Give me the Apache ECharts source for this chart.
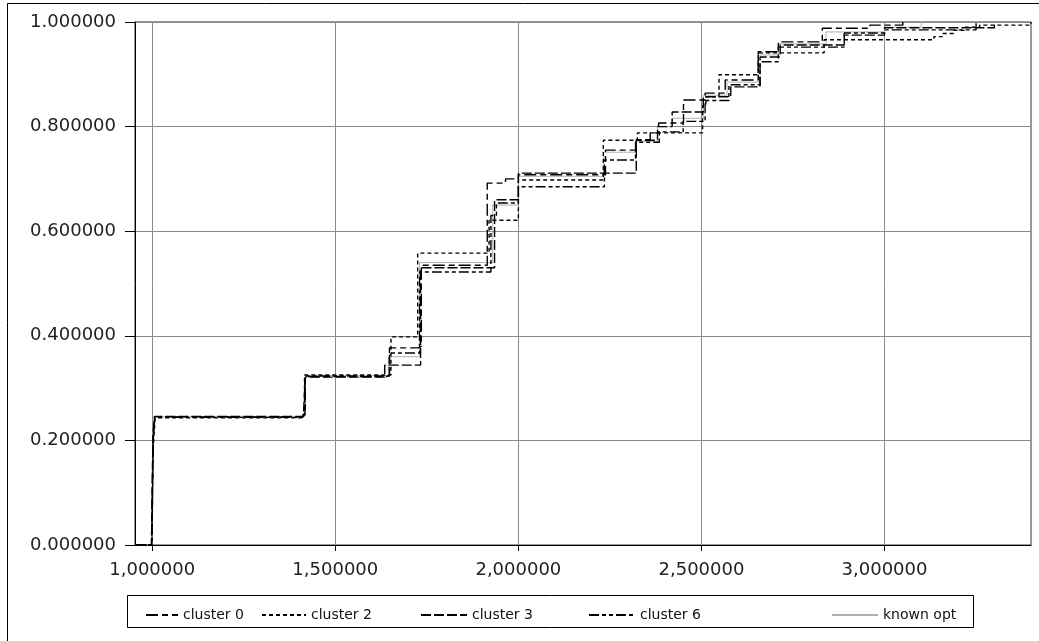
<!DOCTYPE html>
<html>
<head>
<meta charset="utf-8">
<script src="https://cdn.jsdelivr.net/npm/echarts@6/dist/echarts.min.js"></script>
<style>
  html, body { margin: 0; padding: 0; background: #fff; }
  #chart { width: 1039px; height: 641px; }
</style>
</head>
<body>
<div id="chart"></div>
<script>
// ---- data (x = ratio, y = cumulative fraction) ----
var seriesNames = ['cluster 0', 'cluster 2', 'cluster 3', 'cluster 6', 'known opt'];

var cluster0X = [0.953, 0.998, 1.002, 1.007, 1.412, 1.418, 1.640, 1.648, 1.728, 1.735, 1.915, 1.965, 2.000, 2.238, 2.322, 2.360, 2.383, 2.451, 2.510, 2.565, 2.655, 2.710, 2.830, 2.960, 3.050];
var cluster0Y = [0, 0, 0.20, 0.245, 0.250, 0.322, 0.325, 0.377, 0.380, 0.535, 0.692, 0.700, 0.708, 0.755, 0.775, 0.788, 0.807, 0.851, 0.864, 0.889, 0.943, 0.962, 0.988, 0.994, 1.0];

var cluster2X = [0.953, 0.999, 1.003, 1.008, 1.410, 1.416, 1.652, 1.725, 1.920, 2.000, 2.232, 2.325, 2.503, 2.512, 2.548, 2.655, 2.835, 3.135, 3.160, 3.190, 3.220, 3.260, 3.400];
var cluster2Y = [0, 0, 0.19, 0.243, 0.247, 0.325, 0.398, 0.558, 0.621, 0.698, 0.774, 0.788, 0.840, 0.857, 0.899, 0.941, 0.966, 0.972, 0.978, 0.984, 0.990, 0.994, 1.0];

var cluster3X = [0.953, 0.998, 1.002, 1.006, 1.413, 1.418, 1.635, 1.733, 1.935, 2.000, 2.322, 2.380, 2.420, 2.505, 2.580, 2.660, 2.715, 2.890, 3.000, 3.300];
var cluster3Y = [0, 0, 0.21, 0.246, 0.250, 0.321, 0.344, 0.530, 0.660, 0.711, 0.774, 0.800, 0.828, 0.857, 0.876, 0.933, 0.956, 0.975, 0.989, 1.0];

var cluster6X = [0.953, 0.999, 1.003, 1.007, 1.411, 1.417, 1.648, 1.730, 1.925, 1.940, 2.000, 2.235, 2.320, 2.385, 2.450, 2.510, 2.575, 2.660, 2.710, 2.890, 3.000, 3.250];
var cluster6Y = [0, 0, 0.20, 0.244, 0.248, 0.323, 0.367, 0.522, 0.630, 0.654, 0.685, 0.736, 0.770, 0.790, 0.810, 0.850, 0.880, 0.924, 0.952, 0.979, 0.985, 1.0];

var knownOptX = [0.953, 0.998, 1.002, 1.006, 1.412, 1.418, 1.645, 1.730, 1.930, 2.000, 2.233, 2.320, 2.380, 2.420, 2.505, 2.570, 2.655, 2.710, 2.840, 3.000, 3.100];
var knownOptY = [0, 0, 0.20, 0.245, 0.249, 0.324, 0.360, 0.540, 0.650, 0.705, 0.751, 0.772, 0.800, 0.816, 0.860, 0.885, 0.937, 0.958, 0.981, 0.990, 1.0];

var xTickValues = [1.0, 1.5, 2.0, 2.5, 3.0];

function pairs(xs, ys) { return xs.map(function (x, i) { return [x, ys[i]]; }); }

var chart = echarts.init(document.getElementById('chart'), null, { renderer: 'canvas' });

var FONT = 'DejaVu Sans';
var dashes = {
  'cluster 0': [12, 4, 6, 4],
  'cluster 2': [4, 3],
  'cluster 3': [10, 3],
  'cluster 6': [10, 3, 4, 3, 4, 3],
  'known opt': 'solid'
};
var colors = { 'cluster 0': '#000', 'cluster 2': '#000', 'cluster 3': '#000', 'cluster 6': '#000', 'known opt': '#b0b0b0' };
var dataMap = {
  'cluster 0': pairs(cluster0X, cluster0Y),
  'cluster 2': pairs(cluster2X, cluster2Y),
  'cluster 3': pairs(cluster3X, cluster3Y),
  'cluster 6': pairs(cluster6X, cluster6Y),
  'known opt': pairs(knownOptX, knownOptY)
};

var series = seriesNames.map(function (n) {
  return {
    name: n, type: 'line', step: 'end', data: dataMap[n],
    showSymbol: false, symbol: 'none', animation: false,
    z: n === 'known opt' ? 1 : 2,
    color: colors[n],
    lineStyle: { color: colors[n], width: n === 'known opt' ? 1 : 1.4, type: dashes[n] }
  };
});

var legendLefts = [140, 256, 415, 583, 826];
var legendWidths = [32, 44, 46, 46, 46];
var legends = seriesNames.map(function (n, i) {
  return {
    data: [n], left: legendLefts[i], top: 603, itemWidth: legendWidths[i], itemHeight: 12,
    itemGap: 0,
    itemStyle: { opacity: 0, borderWidth: 0 },
    textStyle: { fontFamily: FONT, fontSize: 14, color: '#111' },
    selectedMode: false
  };
});

var option = {
  backgroundColor: '#fff',
  animation: false,
  grid: { left: 135, right: 8, top: 22, bottom: 96, show: true, borderColor: '#333', borderWidth: 1, backgroundColor: 'transparent' },
  legend: legends,
  xAxis: {
    type: 'value', min: 0.953, max: 3.40,
    axisLine: { lineStyle: { color: '#000', width: 1 } },
    axisTick: { show: true, length: 6, customValues: xTickValues, lineStyle: { color: '#000' } },
    axisLabel: { customValues: xTickValues, margin: 16, fontFamily: FONT, fontSize: 18, color: '#222',
      formatter: function (v) { return v.toFixed(6).replace('.', ','); } },
    splitLine: { show: true, lineStyle: { color: '#8a8a8a', width: 1 } }
  },
  yAxis: {
    type: 'value', min: 0, max: 1, interval: 0.2,
    axisLine: { show: true, lineStyle: { color: '#000', width: 1 } },
    axisTick: { show: true, length: 10, lineStyle: { color: '#000' } },
    axisLabel: { margin: 19, fontFamily: FONT, fontSize: 18, color: '#222',
      formatter: function (v) { return v.toFixed(6); } },
    splitLine: { show: true, lineStyle: { color: '#8a8a8a', width: 1 } }
  },
  graphic: [
    { type: 'line', shape: { x1: 7.5, y1: 3.5, x2: 7.5, y2: 641 }, style: { stroke: '#000', lineWidth: 1 } },
    { type: 'line', shape: { x1: 7.5, y1: 3.5, x2: 1039, y2: 3.5 }, style: { stroke: '#000', lineWidth: 1 } },
    { type: 'rect', shape: { x: 127.5, y: 595.5, width: 846, height: 32 }, style: { fill: 'none', stroke: '#000', lineWidth: 1 }, z: 10 }
  ],
  series: series
};
chart.setOption(option);
</script>
</body>
</html>
